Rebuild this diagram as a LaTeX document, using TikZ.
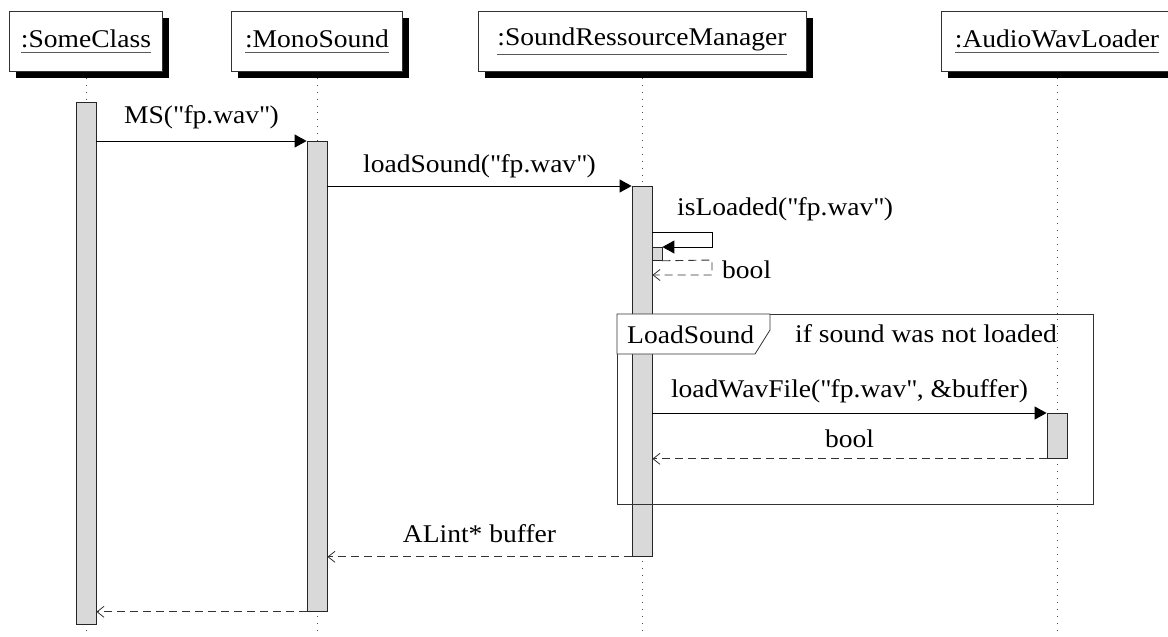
\documentclass[tikz,border=0pt]{standalone}
\usepackage{fontspec}
\setmainfont{Liberation Serif}[FakeStretch=1.08]
\usetikzlibrary{arrows.meta,shadows}

% object name of a lifeline head: text with a rule below it
\newcommand\objname[1]{\setbox0\hbox{#1}\vtop{\copy0\kern3.5pt{\color{black!65}\hrule height 1.1pt width \wd0}}}
\newcommand\dq{\textquotedbl}

\tikzset{
  inst/.style={draw=black!80, fill=white, line width=0.8pt, anchor=north,
    minimum height=60pt, inner xsep=0pt,
    drop shadow={shadow xshift=6.5pt, shadow yshift=-6.5pt, fill=black, opacity=1}},
  actbar/.style={draw=black!85, fill=black!15, line width=0.8pt, anchor=north,
    minimum width=20pt, inner sep=0pt},
  lifeline/.style={black!70, line width=0.9pt, dash pattern=on 0.9pt off 6pt},
  callarr/.style={draw=black, line width=0.9pt, -{Triangle[length=12pt,width=13pt]}},
  retarr/.style={draw=black!80, line width=0.9pt, dash pattern=on 8pt off 5pt,
    -{Straight Barb[length=7pt,width=11pt,line width=0.8pt]}},
  msglabel/.style={inner sep=0pt, anchor=base},
  frameline/.style={draw=black!80, line width=0.8pt},
}

\begin{document}
\begin{tikzpicture}[x=1pt, y=-1pt, font=\fontsize{25.5}{30}\selectfont]
  \fill[white] (0,0) rectangle (1168,637);
  \useasboundingbox (0,0) rectangle (1168,637);
  \coordinate (bottom) at (0,637);

  % lifelines
  \coordinate (h1) at (86,71);
  \coordinate (h2) at (317,71);
  \coordinate (h3) at (642,71);
  \coordinate (h4) at (1057,71);
  \draw[lifeline] (h1) -- (h1 |- bottom);
  \draw[lifeline] (h2) -- (h2 |- bottom);
  \draw[lifeline] (h3) -- (h3 |- bottom);
  \draw[lifeline] (h4) -- (h4 |- bottom);

  % instance heads
  \node[inst, minimum width=153pt] (i1) at (86,11)   {\objname{:SomeClass}};
  \node[inst, minimum width=171pt] (i2) at (317,11)  {\objname{:MonoSound}};
  \node[inst, minimum width=328pt] (i3) at (642,11)  {\objname{:SoundRessourceManager}};
  \node[inst, minimum width=232pt] (i4) at (1057,11) {\objname{:AudioWavLoader}};

  % activation bars
  \node[actbar, minimum height=522pt] (b1) at (86,102) {};
  \node[actbar, minimum height=470pt] (b2) at (317,141) {};
  \node[actbar, minimum height=370pt] (b3) at (642,186) {};
  \node[actbar, minimum width=10pt, minimum height=13pt] (b3s) at (657,247) {};
  \node[actbar, minimum height=45pt] (b4) at (1057,413) {};

  % calls
  \draw[callarr] (b1.east |- b2.north west) -- (b2.north west);
  \node[msglabel] (m1) at (201.5,123) {MS(\dq fp.wav\dq)};

  \draw[callarr] (b2.east |- b3.north west) -- (b3.north west);
  \node[msglabel] (m2) at (479.5,172) {loadSound(\dq fp.wav\dq)};

  % self call and its return
  \coordinate (sc1) at (712,232);
  \coordinate (sc2) at (712,247);
  \draw[callarr] (b3.east |- sc1) -- (sc1) -- (sc2) -- (b3s.north east);
  \node[msglabel, anchor=base west] (m3) at (677,215) {isLoaded(\dq fp.wav\dq)};

  \coordinate (rs1) at (712,260);
  \coordinate (rs2) at (712,275);
  \draw[retarr] (b3s.south east) -- (rs1) -- (rs2) -- (b3.east |- rs2);
  \node[msglabel, anchor=base west] (m4) at (722,278) {bool};

  % combined fragment
  \draw[frameline] (617,314) rectangle (1093,504);
  \filldraw[frameline, fill=white] (617,314) -- (770,314) -- (770,330) -- (755,354) -- (617,354) -- cycle;
  \node[msglabel, anchor=base west] (fname) at (627,343) {LoadSound};
  \node[msglabel, anchor=base west] (fcond) at (795,342) {if sound was not loaded};

  \draw[callarr] (b3.east |- b4.north west) -- (b4.north west);
  \node[msglabel] (m5) at (849.5,397) {loadWavFile(\dq fp.wav\dq, \&buffer)};

  \draw[retarr] (b4.south west) -- (b3.east |- b4.south west);
  \node[msglabel] (m6) at (849.5,447) {bool};

  % returns
  \draw[retarr] (b3.south west) -- (b2.east |- b3.south west);
  \node[msglabel] (m7) at (479.5,542) {ALint* buffer};

  \draw[retarr] (b2.south west) -- (b1.east |- b2.south west);
\end{tikzpicture}
\end{document}
